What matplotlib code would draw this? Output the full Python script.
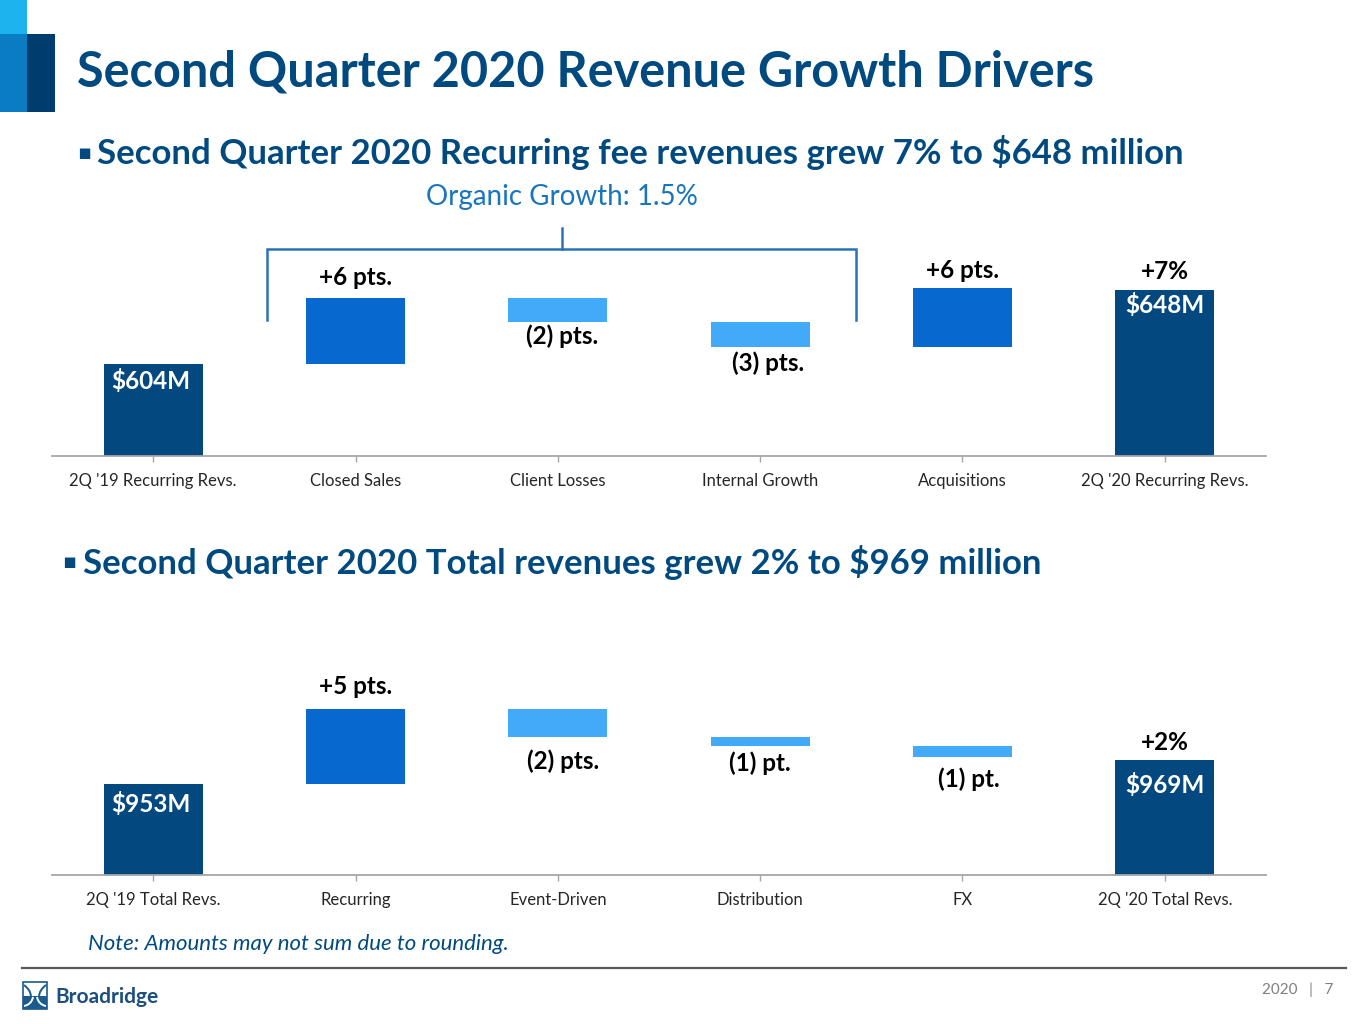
import matplotlib
matplotlib.use("Agg")
import matplotlib.pyplot as plt
from matplotlib.patches import Rectangle, PathPatch
from matplotlib.path import Path
from matplotlib.lines import Line2D
import numpy as np

plt.rcParams['font.family'] = ['Lato', 'DejaVu Sans']

# ---------------- data ----------------
top_categories = ["2Q '19 Recurring Revs.", "Closed Sales", "Client Losses",
                  "Internal Growth", "Acquisitions", "2Q '20 Recurring Revs."]
top_start = 604
top_deltas = [39, -14, -15, 35]
top_end = 648
top_step_labels = ["+6 pts.", "(2) pts.", "(3) pts.", "+6 pts."]
top_start_label = "$604M"
top_end_label = "$648M"
top_growth_label = "+7%"

bot_categories = ["2Q '19 Total Revs.", "Recurring", "Event-Driven",
                  "Distribution", "FX", "2Q '20 Total Revs."]
bot_start = 953
bot_deltas = [50, -19, -6, -7]
bot_end = 969
bot_step_labels = ["+5 pts.", "(2) pts.", "(1) pt.", "(1) pt."]
bot_start_label = "$953M"
bot_end_label = "$969M"
bot_growth_label = "+2%"

# ---------------- style ----------------
W, H = 1365, 1024
NAVY = "#03497f"
UP = "#0769cf"
DOWN = "#42aaf9"
TITLE = "#004a80"
MID = "#1a75bc"
AXIS = "#a6a6a6"

fig = plt.figure(figsize=(W / 100, H / 100), dpi=100)
fig.patch.set_facecolor("white")


def fx(px):
    return px / W


def fy(py):
    return 1 - py / H


def waterfall(ax, cats, start, deltas, end, step_labels, start_label,
              end_label, growth_label, ylim, offs, xoffs):
    x = np.arange(len(cats))
    bw = 0.49
    ymin = ylim[0]
    ax.bar(x[0], start - ymin, bottom=ymin, width=bw, color=NAVY, zorder=2)
    level = start
    bars = []
    for i, d in enumerate(deltas):
        lo, hi = min(level, level + d), max(level, level + d)
        ax.bar(x[i + 1], hi - lo, bottom=lo, width=bw,
               color=UP if d > 0 else DOWN, zorder=2)
        bars.append((lo, hi, d))
        level += d
    ax.bar(x[-1], end - ymin, bottom=ymin, width=bw, color=NAVY, zorder=2)

    kw = dict(textcoords="offset pixels", ha="center", va="center",
              fontsize=17.5, fontweight="bold")
    ax.annotate(start_label, (x[0], start), xytext=(xoffs[0], offs[0]),
                color="white", **kw)
    for i, ((lo, hi, d), lab) in enumerate(zip(bars, step_labels)):
        ref = hi if d > 0 else lo
        ax.annotate(lab, (x[i + 1], ref), xytext=(xoffs[i + 1], offs[i + 1]),
                    color="black", **kw)
    ax.annotate(growth_label, (x[-1], end), xytext=(xoffs[5], offs[5]),
                color="black", **kw)
    ax.annotate(end_label, (x[-1], end), xytext=(xoffs[6], offs[6]),
                color="white", **kw)

    ax.set_xlim(-0.5, len(cats) - 0.5)
    ax.set_ylim(*ylim)
    ax.set_xticks(x)
    ax.set_xticklabels(cats, fontsize=12, color="#262626")
    ax.set_yticks([])
    for s in ["top", "left", "right"]:
        ax.spines[s].set_visible(False)
    ax.spines["bottom"].set_color(AXIS)
    ax.spines["bottom"].set_linewidth(1.3)
    ax.spines["bottom"].set_zorder(3)
    ax.tick_params(axis="x", length=4.5, width=1, color=AXIS, pad=8)
    ax.set_facecolor("none")


# top chart
ax1 = fig.add_axes([fx(52), fy(456), fx(1266 - 52), 236 / H])
waterfall(ax1, top_categories, top_start, top_deltas, top_end,
          top_step_labels, top_start_label, top_end_label, top_growth_label,
          (549, 549 + 236 / 1.68),
          [-17, 21, -15, -16, 17, 18, -15],
          [-2, 0, 4, 8, 0, 0, 0])


def dy1(py):
    return 549 + (456 - py) / 1.68


bx0, bx1, bxc = (267 - 153) / 202.4, (856 - 153) / 202.4, (562 - 153) / 202.4
ax1.plot([bx0, bx0, bx1, bx1], [dy1(320), dy1(249), dy1(249), dy1(320)],
         color="#2a72b8", lw=1.8, clip_on=False, solid_joinstyle="miter")
ax1.plot([bxc, bxc], [dy1(249), dy1(228)], color="#2a72b8", lw=1.8,
         clip_on=False)

# bottom chart
ax2 = fig.add_axes([fx(52), fy(875), fx(1266 - 52), 235 / H])
waterfall(ax2, bot_categories, bot_start, bot_deltas, bot_end,
          bot_step_labels, bot_start_label, bot_end_label, bot_growth_label,
          (892, 892 + 235 / 1.5),
          [-20, 22, -24, -17, -23, 17, -25],
          [-2, 0, 5, 0, 6, 0, 0])

# ---------------- slide decorations ----------------
fig.add_artist(Rectangle((0, fy(34)), fx(27), 34 / H, transform=fig.transFigure,
                         color="#1cb3ee", lw=0))
fig.add_artist(Rectangle((0, fy(112)), fx(27), 78 / H, transform=fig.transFigure,
                         color="#0a7cc3", lw=0))
fig.add_artist(Rectangle((fx(27), fy(112)), fx(28), 78 / H,
                         transform=fig.transFigure, color="#003d6e", lw=0))

fig.text(fx(77), fy(72), "Second Quarter 2020 Revenue Growth Drivers",
         fontsize=35, fontweight="bold", color=TITLE, va="center", ha="left")

fig.text(fx(77), fy(153), "\u25aa", fontsize=15, color=TITLE, va="center",
         ha="left", family=["DejaVu Sans"])
fig.text(fx(97), fy(153),
         "Second Quarter 2020 Recurring fee revenues grew 7% to $648 million",
         fontsize=25, fontweight="bold", color=TITLE, va="center", ha="left")

fig.text(fx(562), fy(197), "Organic Growth: 1.5%", fontsize=20,
         color=MID, va="center", ha="center")

fig.text(fx(62), fy(562), "\u25aa", fontsize=15, color=TITLE, va="center",
         ha="left", family=["DejaVu Sans"])
fig.text(fx(83), fy(562),
         "Second Quarter 2020 Total revenues grew 2% to $969 million",
         fontsize=25, fontweight="bold", color=TITLE, va="center", ha="left")

fig.text(fx(88), fy(944), "Note: Amounts may not sum due to rounding.",
         fontsize=16, style="italic", color=TITLE, va="center", ha="left")

fig.add_artist(Line2D([fx(22), fx(1346)], [fy(968), fy(968)],
                      transform=fig.transFigure, color="#595959", lw=1.6))

# Broadridge logo
fig.add_artist(Rectangle((fx(23), fy(1009)), fx(24), 27 / H,
                         transform=fig.transFigure, facecolor="white",
                         edgecolor="#1a5a8c", lw=1.2))
fig.add_artist(Rectangle((fx(23), fy(1009)), fx(24), 13 / H,
                         transform=fig.transFigure, facecolor="#1a5a8c", lw=0))
for sgn in (-1, 1):
    verts = [(fx(35 + sgn * 11), fy(985)), (fx(35 + sgn * 2), fy(992)),
             (fx(35 + sgn * 2), fy(1000)), (fx(35 + sgn * 10), fy(1007))]
    p = Path(verts, [Path.MOVETO, Path.CURVE4, Path.CURVE4, Path.CURVE4])
    fig.add_artist(PathPatch(p, transform=fig.transFigure, fill=False,
                             edgecolor="#1a5a8c", lw=1.4))
    verts2 = [(fx(35 + sgn * 2), fy(997)), (fx(35 + sgn * 3), fy(1002)),
              (fx(35 + sgn * 6), fy(1005)), (fx(35 + sgn * 11), fy(1006))]
    p2 = Path(verts2, [Path.MOVETO, Path.CURVE4, Path.CURVE4, Path.CURVE4])
    fig.add_artist(PathPatch(p2, transform=fig.transFigure, fill=False,
                             edgecolor="white", lw=1.4))
fig.text(fx(55), fy(997), "Broadridge", fontsize=15, fontweight="bold",
         color="#1a4f7f", va="center", ha="left")

fig.text(fx(1333), fy(990), "2020   |   7", fontsize=11, color="#7f7f7f",
         va="center", ha="right")

fig.savefig("out.png", dpi=100, facecolor="white")
